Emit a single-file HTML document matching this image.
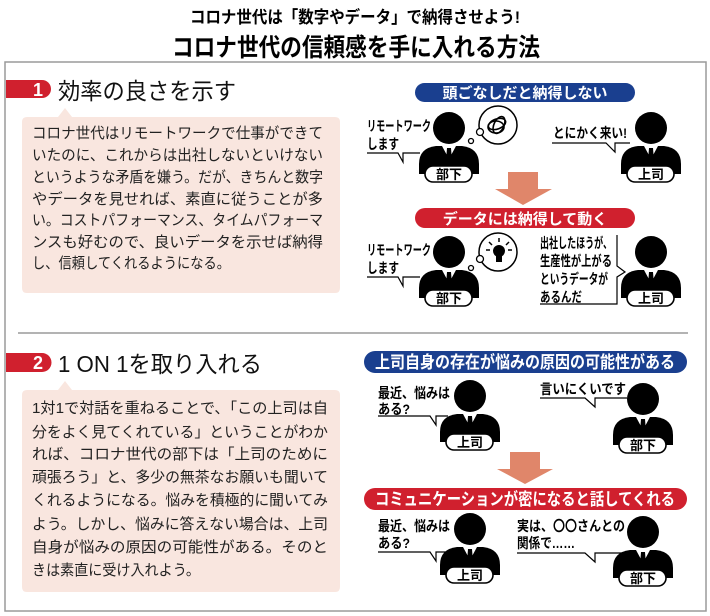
<!DOCTYPE html>
<html><head><meta charset="utf-8"><style>
html,body{margin:0;padding:0;background:#fff;}
svg{display:block;}
text{font-family:"Liberation Sans","Noto Sans CJK JP",sans-serif;}
</style></head><body>
<svg width="710" height="616" viewBox="0 0 710 616" xmlns="http://www.w3.org/2000/svg">
<defs>
<g id="bu">
<circle cx="0" cy="0" r="16" fill="#000"/>
<path d="M-30 46 L-30 36 Q-30 20 -13 18 L13 18 Q30 20 30 36 L30 46 Z" fill="#000"/>
<polygon points="-7,18 0,31 7,18" fill="#fff"/>
<polygon points="-2,20 2,20 3,33 0,37 -3,33" fill="#000"/>
<rect x="-24" y="38" width="47" height="16" rx="8" fill="#fff" stroke="#000" stroke-width="1.6"/>
<text x="0" y="51" font-size="13" font-weight="bold" text-anchor="middle">部下</text>
</g>
<g id="jo">
<circle cx="0" cy="0" r="16" fill="#000"/>
<path d="M-30 46 L-30 36 Q-30 20 -13 18 L13 18 Q30 20 30 36 L30 46 Z" fill="#000"/>
<polygon points="-7,18 0,31 7,18" fill="#fff"/>
<polygon points="-2,20 2,20 3,33 0,37 -3,33" fill="#000"/>
<rect x="-24" y="38" width="47" height="16" rx="8" fill="#fff" stroke="#000" stroke-width="1.6"/>
<text x="0" y="51" font-size="13" font-weight="bold" text-anchor="middle">上司</text>
</g>
</defs>

<text x="355" y="23" font-size="17" font-weight="bold" text-anchor="middle" textLength="330" lengthAdjust="spacingAndGlyphs">コロナ世代は「数字やデータ」で納得させよう!</text>
<text x="356" y="56" font-size="25" font-weight="bold" text-anchor="middle" textLength="368" lengthAdjust="spacingAndGlyphs">コロナ世代の信頼感を手に入れる方法</text>

<rect x="5" y="62" width="701" height="549" fill="none" stroke="#9a9a9a" stroke-width="1.5"/>
<line x1="18" y1="333" x2="688" y2="333" stroke="#9a9a9a" stroke-width="1.5"/>

<path d="M6 80 L42 80 A9 9 0 0 1 42 98 L6 98 Z" fill="#d0202e"/>
<text x="38" y="96" font-size="18" font-weight="bold" fill="#fff" text-anchor="middle">1</text>
<text x="58" y="99" font-size="23" fill="#111" textLength="178" lengthAdjust="spacingAndGlyphs">効率の良さを示す</text>
<path d="M27 117 L58 117 L65 108 L72 117 L335 117 Q340 117 340 122 L340 288 Q340 293 335 293 L27 293 Q22 293 22 288 L22 122 Q22 117 27 117 Z" fill="#f9e6df"/>
<g font-size="15" fill="#222">
<text x="32" y="138" textLength="291" lengthAdjust="spacingAndGlyphs">コロナ世代はリモートワークで仕事ができて</text>
<text x="32" y="160" textLength="291" lengthAdjust="spacingAndGlyphs">いたのに、これからは出社しないといけない</text>
<text x="32" y="182" textLength="291" lengthAdjust="spacingAndGlyphs">というような矛盾を嫌う。だが、きちんと数字</text>
<text x="32" y="204" textLength="291" lengthAdjust="spacingAndGlyphs">やデータを見せれば、素直に従うことが多</text>
<text x="32" y="225" textLength="291" lengthAdjust="spacingAndGlyphs">い。コストパフォーマンス、タイムパフォーマ</text>
<text x="32" y="247" textLength="291" lengthAdjust="spacingAndGlyphs">ンスも好むので、良いデータを示せば納得</text>
<text x="32" y="268" textLength="198" lengthAdjust="spacingAndGlyphs">し、信頼してくれるようになる。</text>
</g>

<rect x="415" y="83" width="220" height="19" rx="9.5" fill="#1a3f8f"/>
<text x="525" y="98" font-size="15" font-weight="bold" fill="#fff" text-anchor="middle">頭ごなしだと納得しない</text>
<use href="#bu" x="449" y="128"/>
<use href="#jo" x="651" y="128"/>
<circle cx="498" cy="125" r="19" fill="#fff" stroke="#000" stroke-width="1.5"/>
<circle cx="480" cy="132" r="3.5" fill="#fff" stroke="#000" stroke-width="1.3"/>
<circle cx="471" cy="141" r="2.5" fill="#fff" stroke="#000" stroke-width="1.3"/>
<g fill="none" stroke="#000" stroke-width="1.6">
<ellipse cx="497" cy="124" rx="9" ry="5" transform="rotate(-20 497 124)"/>
<ellipse cx="499" cy="125" rx="5" ry="9" transform="rotate(25 499 125)"/>
<ellipse cx="496" cy="127" rx="8" ry="6"/>
</g>
<g font-size="14" font-weight="bold">
<text x="367" y="131" textLength="64" lengthAdjust="spacingAndGlyphs">リモートワーク</text>
<text x="367" y="149" textLength="32" lengthAdjust="spacingAndGlyphs">します</text>
<text x="553" y="138" textLength="74" lengthAdjust="spacingAndGlyphs">とにかく来い!</text>
<text x="367" y="255" textLength="64" lengthAdjust="spacingAndGlyphs">リモートワーク</text>
<text x="367" y="273" textLength="32" lengthAdjust="spacingAndGlyphs">します</text>
<text x="540" y="248" textLength="72" lengthAdjust="spacingAndGlyphs">出社したほうが、</text>
<text x="540" y="266" textLength="72" lengthAdjust="spacingAndGlyphs">生産性が上がる</text>
<text x="540" y="284" textLength="68" lengthAdjust="spacingAndGlyphs">というデータが</text>
<text x="540" y="302" textLength="42" lengthAdjust="spacingAndGlyphs">あるんだ</text>
</g>
<g fill="none" stroke="#000" stroke-width="1.2">
<polyline points="367,153 398,153 403,162 403,153 420,153"/>
<polyline points="552,143 606,143 615,152 615,143 630,143"/>
<polyline points="367,277 398,277 403,286 403,277 420,277"/>
<polyline points="617,235 617,266 625,272 617,277 617,304 540,304"/>
</g>
<polygon points="508,172 538,172 538,189 552,189 523,205 495,189 508,189" fill="#e0866a"/>
<rect x="415" y="208" width="220" height="20" rx="10" fill="#d0202e"/>
<text x="525" y="224" font-size="15" font-weight="bold" fill="#fff" text-anchor="middle">データには納得して動く</text>
<use href="#bu" x="449" y="252"/>
<use href="#jo" x="651" y="252"/>
<circle cx="498" cy="252" r="19" fill="#fff" stroke="#000" stroke-width="1.5"/>
<circle cx="480" cy="259" r="3.5" fill="#fff" stroke="#000" stroke-width="1.3"/>
<circle cx="471" cy="268" r="2.5" fill="#fff" stroke="#000" stroke-width="1.3"/>
<circle cx="499" cy="251" r="6" fill="#000"/>
<rect x="496" y="256" width="6" height="6" fill="#000"/>
<g stroke="#000" stroke-width="1.5">
<line x1="499" y1="238" x2="499" y2="242"/>
<line x1="489" y1="242" x2="492" y2="245"/>
<line x1="509" y1="242" x2="506" y2="245"/>
<line x1="486" y1="250" x2="490" y2="250"/>
<line x1="512" y1="250" x2="508" y2="250"/>
</g>

<path d="M6 353 L42 353 A9.5 9.5 0 0 1 42 372 L6 372 Z" fill="#d0202e"/>
<text x="38" y="369" font-size="18" font-weight="bold" fill="#fff" text-anchor="middle">2</text>
<text x="58" y="372" font-size="23" fill="#111" textLength="204" lengthAdjust="spacingAndGlyphs">1 ON 1を取り入れる</text>
<path d="M27 390 L58 390 L65 381 L72 390 L335 390 Q340 390 340 395 L340 587 Q340 592 335 592 L27 592 Q22 592 22 587 L22 395 Q22 390 27 390 Z" fill="#f9e6df"/>
<g font-size="15" fill="#222">
<text x="32" y="413" textLength="296" lengthAdjust="spacingAndGlyphs">1対1で対話を重ねることで、「この上司は自</text>
<text x="32" y="437" textLength="296" lengthAdjust="spacingAndGlyphs">分をよく見てくれている」ということがわか</text>
<text x="32" y="459" textLength="296" lengthAdjust="spacingAndGlyphs">れば、コロナ世代の部下は「上司のために</text>
<text x="32" y="482" textLength="296" lengthAdjust="spacingAndGlyphs">頑張ろう」と、多少の無茶なお願いも聞いて</text>
<text x="32" y="505" textLength="296" lengthAdjust="spacingAndGlyphs">くれるようになる。悩みを積極的に聞いてみ</text>
<text x="32" y="529" textLength="296" lengthAdjust="spacingAndGlyphs">よう。しかし、悩みに答えない場合は、上司</text>
<text x="32" y="552" textLength="296" lengthAdjust="spacingAndGlyphs">自身が悩みの原因の可能性がある。そのと</text>
<text x="32" y="575" textLength="168" lengthAdjust="spacingAndGlyphs">きは素直に受け入れよう。</text>
</g>

<rect x="364" y="351" width="323" height="22" rx="11" fill="#1a3f8f"/>
<text x="525" y="368" font-size="17" font-weight="bold" fill="#fff" text-anchor="middle" textLength="300" lengthAdjust="spacingAndGlyphs">上司自身の存在が悩みの原因の可能性がある</text>
<use href="#jo" x="470" y="396"/>
<use href="#bu" x="643" y="399"/>
<g font-size="14" font-weight="bold">
<text x="378" y="398" textLength="72" lengthAdjust="spacingAndGlyphs">最近、悩みは</text>
<text x="378" y="414" textLength="32" lengthAdjust="spacingAndGlyphs">ある?</text>
<text x="540" y="394" textLength="86" lengthAdjust="spacingAndGlyphs">言いにくいです</text>
<text x="378" y="531" textLength="72" lengthAdjust="spacingAndGlyphs">最近、悩みは</text>
<text x="378" y="548" textLength="32" lengthAdjust="spacingAndGlyphs">ある?</text>
<text x="517" y="531" textLength="108" lengthAdjust="spacingAndGlyphs">実は、〇〇さんとの</text>
<text x="517" y="548" textLength="58" lengthAdjust="spacingAndGlyphs">関係で……</text>
</g>
<g fill="none" stroke="#000" stroke-width="1.2">
<polyline points="378,416 430,416 436,425 436,416 448,416"/>
<polyline points="540,398 585,398 595,407 595,398 627,398"/>
<polyline points="378,552 430,552 436,561 436,552 448,552"/>
<polyline points="517,553 585,553 595,562 595,553 628,553"/>
</g>
<polygon points="510,452 540,452 540,469 553,469 525,484 497,469 510,469" fill="#e0866a"/>
<rect x="364" y="488" width="323" height="22" rx="11" fill="#d0202e"/>
<text x="525" y="505" font-size="17" font-weight="bold" fill="#fff" text-anchor="middle" textLength="300" lengthAdjust="spacingAndGlyphs">コミュニケーションが密になると話してくれる</text>
<use href="#jo" x="470" y="529"/>
<use href="#bu" x="643" y="532"/>
</svg>
</body></html>
